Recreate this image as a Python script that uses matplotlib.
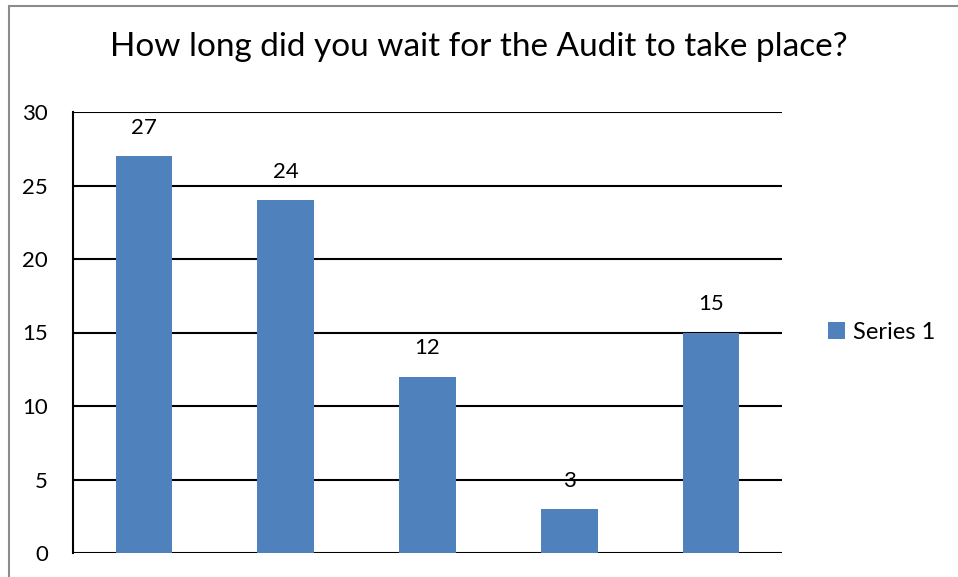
import matplotlib.pyplot as plt
from matplotlib.patches import Rectangle

categories = ["A", "B", "C", "D", "E"]
values = [27, 24, 12, 3, 15]
series_name = "Series 1"
title = "How long did you wait for the Audit to take place?"
yticks = [0, 5, 10, 15, 20, 25, 30]

plt.rcParams["font.family"] = ["Lato", "DejaVu Sans"]

fig = plt.figure(figsize=(9.58, 5.77), dpi=100)
ax = fig.add_axes([73 / 958, 1 - 553 / 577, 709 / 958, 441 / 577])

# gray chart-area frame, running off the right and bottom edges
fig.patches.append(Rectangle((8.5 / 958, -0.1), 1.2, 1.1 - 6.5 / 577,
                             transform=fig.transFigure, fill=False,
                             edgecolor="#8c8c8c", linewidth=1.5))

x = range(len(categories))
bars = ax.bar(x, values, width=0.4, color="#4F81BD", label=series_name, zorder=3)
for b, v in zip(bars, values):
    ax.text(b.get_x() + b.get_width() / 2, v + 1.25, str(v),
            ha="center", va="bottom", fontsize=16)

ax.set_xlim(-0.5, len(categories) - 0.5)
ax.set_ylim(0, 30)
ax.set_yticks(yticks)
ax.set_xticks([])
ax.yaxis.grid(True, color="black", linewidth=1.5, zorder=0)
ax.tick_params(axis="y", length=0, pad=18, labelsize=16)
for s in ["top", "right", "bottom"]:
    ax.spines[s].set_visible(False)
ax.spines["left"].set_linewidth(1.5)

fig.text(0.5, 1 - 47 / 577, title, ha="center", va="center", fontsize=24)
ax.legend(loc="center left", bbox_to_anchor=(1.035, 0.5), frameon=False,
          fontsize=17, handlelength=0.7, handleheight=0.7, handletextpad=0.35)

fig.savefig("out.png", dpi=100)
